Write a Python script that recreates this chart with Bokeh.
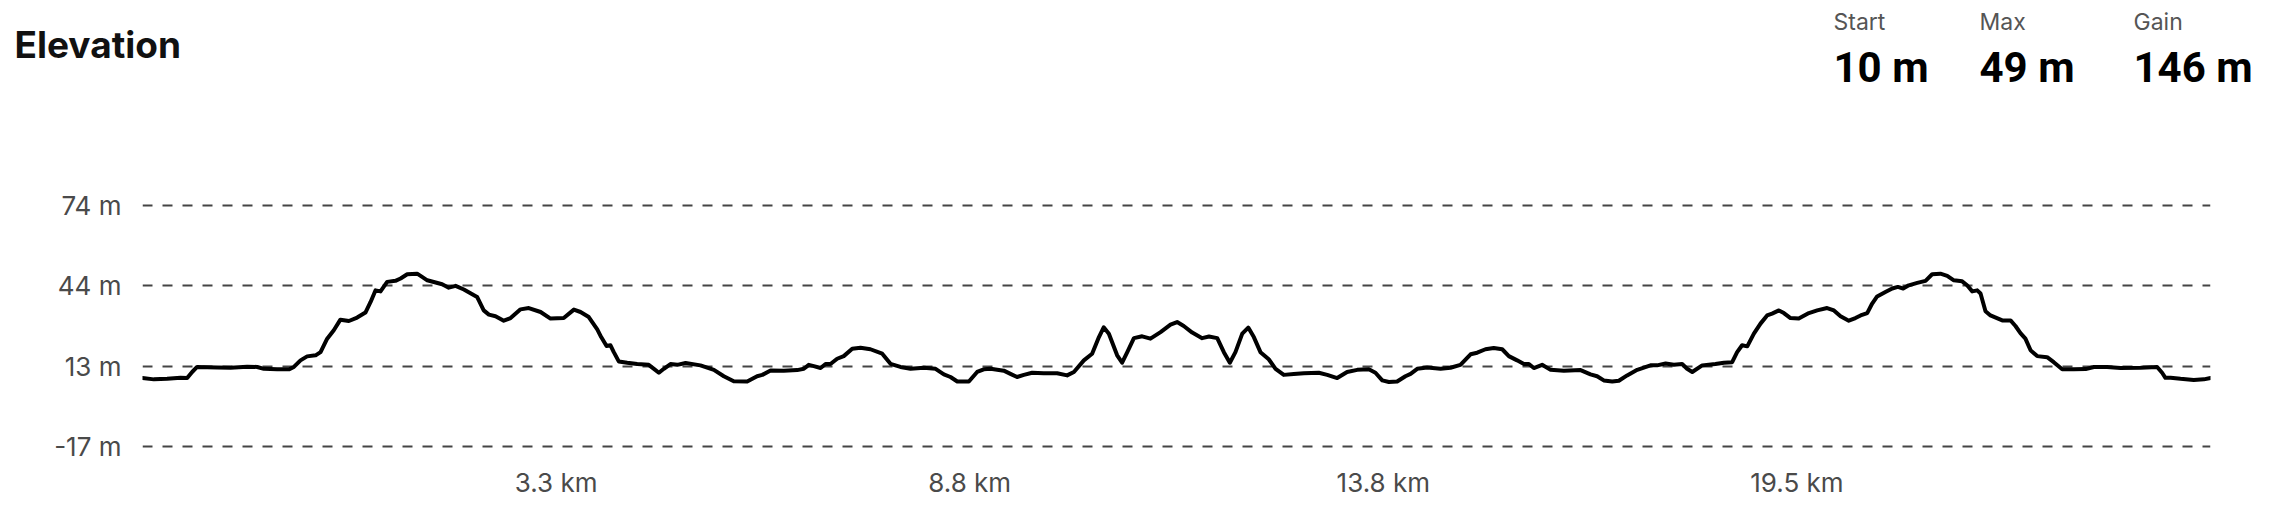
from bokeh.plotting import figure
from bokeh.layouts import column
from bokeh.models import Range1d, FixedTicker, CustomJSTickFormatter
from bokeh.core.properties import value
from bokeh.embed import file_html
from bokeh.resources import INLINE

# route position (% of route) and elevation (m)
route_pct = [0.0, 0.55, 1.19, 1.84, 2.16, 2.40, 2.64, 3.61, 4.26, 5.06, 5.55, 5.87, 6.51, 7.08, 7.32, 7.64, 7.96,
             8.37, 8.61, 8.93, 9.25, 9.57, 9.98, 10.38, 10.78, 11.03, 11.27, 11.51, 11.83, 12.23, 12.48, 12.80,
             13.28, 13.52, 13.77, 14.49, 14.81, 15.14, 15.54, 16.18, 16.50, 16.75, 17.07, 17.47, 17.80, 18.28,
             18.68, 19.25, 19.73, 20.37, 20.86, 21.18, 21.58, 21.99, 22.18, 22.44, 22.63, 22.79, 23.03, 23.44,
             23.92, 24.48, 24.73, 24.97, 25.21, 25.53, 25.86, 26.26, 26.98, 27.63, 28.11, 28.59, 29.24, 29.72,
             29.97, 30.37, 31.01, 31.66, 31.98, 32.22, 32.46, 32.79, 33.03, 33.27, 33.59, 33.91, 34.32, 34.72,
             35.20, 35.77, 36.17, 36.65, 37.14, 37.78, 38.35, 38.75, 39.07, 39.40, 39.96, 40.36, 40.68, 41.01,
             41.65, 41.97, 42.29, 42.62, 43.02, 43.58, 44.23, 44.71, 45.04, 45.52, 45.92, 46.25, 46.48, 46.73,
             47.13, 47.37, 47.62, 47.94, 48.34, 48.74, 49.23, 49.71, 50.03, 50.35, 50.76, 51.24, 51.57, 51.97,
             52.29, 52.58, 52.85, 53.18, 53.47, 53.74, 54.06, 54.46, 54.79, 55.19, 55.67, 56.16, 56.88, 57.29,
             57.77, 58.25, 58.74, 59.30, 59.62, 59.95, 60.27, 60.67, 61.07, 61.32, 61.64, 62.12, 62.77, 63.25,
             63.73, 64.22, 64.54, 64.94, 65.34, 65.75, 66.07, 66.47, 66.80, 67.04, 67.28, 67.68, 68.09, 68.73,
             69.54, 70.02, 70.34, 70.66, 71.07, 71.39, 71.79, 72.28, 72.92, 73.24, 73.65, 74.05, 74.45, 74.69,
             74.94, 75.42, 76.06, 76.47, 76.87, 77.11, 77.35, 77.60, 77.92, 78.24, 78.56, 78.80, 79.13, 79.37,
             79.69, 80.09, 80.58, 80.98, 81.46, 81.79, 82.11, 82.51, 82.83, 83.08, 83.40, 83.64, 83.88, 84.28,
             84.61, 84.88, 85.14, 85.41, 85.82, 86.22, 86.54, 86.94, 87.27, 87.59, 87.99, 88.23, 88.48, 88.72,
             88.88, 89.12, 89.36, 89.93, 90.33, 90.57, 90.81, 91.05, 91.30, 91.62, 92.10, 92.42, 92.83, 93.39,
             93.96, 94.36, 95.00, 95.65, 96.62, 97.42, 97.66, 97.82, 98.07, 98.55, 99.19, 99.68, 100.0]

elevation_m = [8.8, 8.3, 8.5, 8.9, 8.8, 11.1, 13.0, 12.8, 12.7, 13.1, 13.0, 12.3, 12.1, 12.1, 13.0, 15.5, 17.0,
               17.4, 18.6, 23.7, 26.9, 30.9, 30.4, 31.7, 33.6, 37.6, 42.0, 41.6, 45.2, 45.6, 46.5, 48.1,
               48.3, 47.1, 45.8, 44.3, 43.0, 43.7, 42.3, 39.5, 34.4, 32.8, 32.2, 30.5, 31.5, 34.8,
               35.3, 33.8, 31.3, 31.5, 34.7, 33.8, 31.9, 27.2, 24.3, 20.9, 21.2, 18.6, 15.1, 14.6,
               14.1, 13.8, 12.3, 10.8, 12.3, 14.1, 13.8, 14.5, 13.6, 11.9, 9.5, 7.6, 7.5, 9.5,
               10.0, 11.7, 11.6, 11.8, 12.3, 13.8, 13.3, 12.6, 14.1, 14.1, 16.1, 17.1, 19.9, 20.3,
               19.7, 18.0, 14.2, 13.0, 12.3, 12.7, 12.3, 10.2, 9.2, 7.5, 7.5, 11.1, 12.1, 12.3,
               11.6, 10.4, 9.2, 10.0, 10.8, 10.6, 10.6, 9.8, 11.1, 15.5, 18.0, 24.3, 28.0, 25.6,
               17.4, 14.6, 18.6, 23.9, 24.6, 23.7, 26.2, 29.0, 30.0, 28.5, 26.0, 23.9, 24.5, 23.9,
               18.6, 14.6, 18.6, 25.6, 27.9, 24.3, 18.6, 15.9, 12.3, 10.0, 10.3, 10.6, 10.8, 10.0,
               8.8, 11.1, 11.9, 12.1, 10.8, 7.9, 7.3, 7.5, 9.5, 10.4, 12.3, 12.8, 12.3, 12.7,
               13.8, 17.8, 18.4, 19.7, 20.2, 19.7, 17.1, 15.5, 14.1, 14.1, 12.6, 13.8, 11.9, 11.6,
               11.8, 10.2, 9.5, 7.9, 7.5, 7.8, 9.8, 11.9, 13.6, 13.6, 14.3, 13.8, 14.1, 12.3,
               11.1, 13.6, 14.1, 14.6, 14.8, 18.6, 21.2, 20.8, 25.6, 29.4, 32.5, 33.2, 34.4, 33.4,
               31.5, 31.3, 33.4, 34.4, 35.3, 34.4, 32.2, 30.5, 31.5, 32.5, 33.4, 37.0, 39.7, 41.4,
               42.7, 43.3, 42.7, 43.9, 44.8, 45.6, 48.1, 48.3, 47.5, 45.8, 45.4, 43.9, 41.6, 42.0,
               40.8, 34.1, 32.5, 30.6, 30.6, 28.5, 25.8, 23.7, 19.3, 17.1, 16.7, 14.8, 12.1, 12.1,
               12.2, 13.0, 13.0, 12.6, 12.7, 13.0, 10.8, 8.9, 8.9, 8.5, 8.1, 8.3, 8.8]

x_tick_pos = [20, 40, 60, 80]
x_tick_labels = ["3.3 km", "8.8 km", "13.8 km", "19.5 km"]
y_ticks = [-17, 13.3333, 43.6667, 74]

title_text = "Elevation"
stat_names = ["Start", "Max", "Gain"]
stat_values = ["10 m", "49 m", "146 m"]

FONT = "Inter"
W = 2276
HEAD_H = 100

# ---- header (title + stats), pixel-space figure ----
h = figure(width=W, height=HEAD_H, output_backend="svg", toolbar_location=None, title=None,
           x_range=Range1d(0, W), y_range=Range1d(HEAD_H, 0),
           x_axis_location=None, y_axis_location=None,
           min_border=0, min_border_left=0, min_border_right=0, min_border_top=0, min_border_bottom=0)
h.frame_align = False
h.outline_line_color = None
h.grid.visible = False
h.background_fill_color = "white"
h.border_fill_color = "white"

h.text(x=[14], y=[44], text=[title_text], text_font=value(FONT), text_font_size="37px",
       text_font_style="bold", text_color="#111111", text_baseline="alphabetic", text_align="left")
stat_x = [1833, 1979, 2133]
h.text(x=stat_x, y=[21] * 3, text=stat_names, text_font=value(FONT), text_font_size="23px",
       text_color="#555555", text_baseline="alphabetic", text_align="left")
h.text(x=stat_x, y=[67] * 3, text=stat_values,
       text_font=value("Roboto"), text_font_size="42px", text_font_style="bold",
       text_color="#000000", text_baseline="alphabetic", text_align="left")

# ---- elevation chart ----
p = figure(width=W, height=412, output_backend="svg", toolbar_location=None, title=None,
           x_range=Range1d(0, 100), y_range=Range1d(-19, 76),
           min_border_left=142, min_border_right=66, min_border_top=100, min_border_bottom=61)
p.frame_align = False
p.outline_line_color = None
p.background_fill_color = "white"
p.border_fill_color = "white"

p.line(route_pct, elevation_m, line_color="#000000", line_width=4, line_join="round", line_cap="round")

p.xgrid.grid_line_color = None
p.ygrid.ticker = FixedTicker(ticks=y_ticks)
p.ygrid.grid_line_color = "#444444"
p.ygrid.grid_line_width = 2
p.ygrid.grid_line_dash = "10 10"

p.yaxis.ticker = FixedTicker(ticks=y_ticks)
p.yaxis.formatter = CustomJSTickFormatter(code="return Math.round(tick) + ' m'")
p.xaxis.ticker = FixedTicker(ticks=x_tick_pos)
p.xaxis.major_label_overrides = {float(k): v for k, v in zip(x_tick_pos, x_tick_labels)}

for ax in (p.xaxis[0], p.yaxis[0]):
    ax.axis_line_color = None
    ax.major_tick_line_color = None
    ax.minor_tick_line_color = None
    ax.major_tick_out = 0
    ax.major_tick_in = 0
    ax.major_label_text_font = FONT
    ax.major_label_text_font_size = "26px"
    ax.major_label_text_color = "#4a4a4a"
p.yaxis.major_label_standoff = 21
p.xaxis.major_label_standoff = 15

layout = column(h, p, spacing=0)
open("out.html", "w").write(file_html(layout, INLINE))
